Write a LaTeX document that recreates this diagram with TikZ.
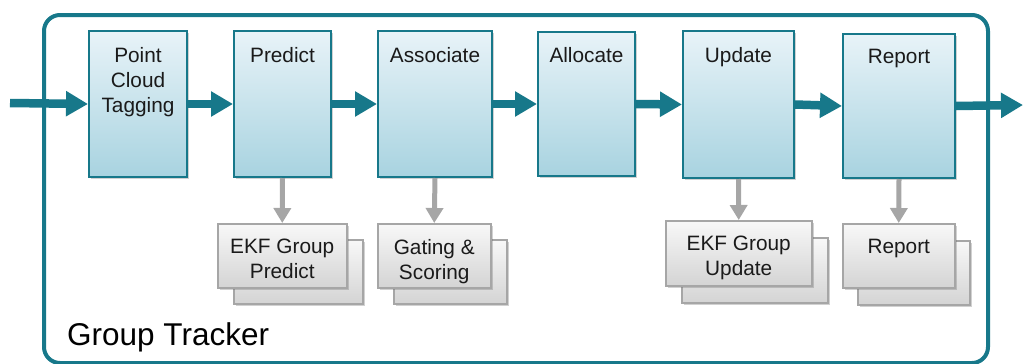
\documentclass[tikz,border=0pt]{standalone}
\usepackage{fontspec}
\setmainfont{Liberation Sans}
\usetikzlibrary{arrows.meta,shadows,calc}
\definecolor{tealc}{HTML}{17788A}
\definecolor{boxtop}{HTML}{E8F3F8}
\definecolor{boxbot}{HTML}{A8D3E0}
\definecolor{graytop}{HTML}{F8F8F8}
\definecolor{graybot}{HTML}{D4D4D4}
\definecolor{grayline}{HTML}{A6A6A6}
\definecolor{txt}{HTML}{1A1A1A}
\tikzset{
  mainbox/.style={draw=tealc, line width=2pt, top color=boxtop, bottom color=boxbot,
    anchor=north west, inner sep=0pt,
    drop shadow={shadow xshift=2pt, shadow yshift=-2pt, opacity=0.3, fill=black!60}},
  subbox/.style={draw=grayline, line width=1.5pt, top color=graytop, bottom color=graybot,
    anchor=north west, inner sep=0pt, minimum height=64pt,
    drop shadow={shadow xshift=2.5pt, shadow yshift=-2.5pt, opacity=0.3, fill=black!60}},
  lbl/.style={anchor=north, align=center, inner sep=0pt, text=txt,
    font=\fontsize{20.8}{25}\selectfont},
  flow/.style={draw=tealc, line width=8.5pt, -{Triangle[length=22pt, width=24pt]}},
  down/.style={draw=grayline, line width=5pt, -{Triangle[length=15pt, width=17pt]}},
  frame/.style={draw=tealc, line width=4pt, rounded corners=16pt, anchor=north west,
    inner sep=0pt},
}
\begin{document}
\begin{tikzpicture}[x=1pt, y=-1pt]
\useasboundingbox (0,0) rectangle (1023,364);
% outer frame
\node[frame, minimum width=944pt, minimum height=348pt] (frame) at (42,13) {};
% main boxes
\node[mainbox, minimum width=98pt, minimum height=146pt] (pct) at (88,30) {};
\node[mainbox, minimum width=97pt, minimum height=146pt] (pred) at (233,30) {};
\node[mainbox, minimum width=114pt, minimum height=146pt] (assoc) at (377,30) {};
\node[mainbox, minimum width=97pt, minimum height=144pt] (alloc) at (537,31) {};
\node[mainbox, minimum width=111pt, minimum height=147pt] (upd) at (682,30) {};
\node[mainbox, minimum width=112pt, minimum height=144pt] (rep) at (842,33) {};
\node[lbl] (tpct) at ($(pct.north)+(0,17)$) {Point\\Cloud\\Tagging};
\node[lbl] (tpred) at ($(pred.north)+(0,17)$) {Predict};
\node[lbl] (tassoc) at ($(assoc.north)+(0,17)$) {Associate};
\node[lbl] (talloc) at ($(alloc.north)+(0,16)$) {Allocate};
\node[lbl] (tupd) at ($(upd.north)+(0,17)$) {Update};
\node[lbl] (trep) at ($(rep.north)+(0,16)$) {Report};
% sub boxes (back copies first)
\node[subbox, minimum width=129pt] (s1b) at (233,239) {};
\node[subbox, minimum width=129pt] (s1) at (217,223) {};
\node[subbox, minimum width=113pt] (s2b) at (393,239) {};
\node[subbox, minimum width=113pt] (s2) at (377,223) {};
\node[subbox, minimum width=146pt, minimum height=65pt] (s3b) at (681,237) {};
\node[subbox, minimum width=146pt, minimum height=65pt] (s3) at (665,220) {};
\node[subbox, minimum width=112pt] (s4b) at (857,240) {};
\node[subbox, minimum width=112pt] (s4) at (842,223) {};
\node[lbl] (ts1) at ($(s1.north)+(0,16)$) {EKF Group\\Predict};
\node[lbl] (ts2) at ($(s2.north)+(0,16)$) {Gating \&\\Scoring};
\node[lbl] (ts3) at ($(s3.north)+(0,16)$) {EKF Group\\Update};
\node[lbl] (ts4) at ($(s4.north)+(0,16)$) {Report};
% flow arrows
\coordinate (in) at (10,103);
\coordinate (out) at (1023,105);
\draw[flow] (in) -- (pct.west);
\draw[flow] (pct.east) -- (pred.west);
\draw[flow] (pred.east) -- (assoc.west);
\draw[flow] (assoc.east) -- (alloc.west);
\draw[flow] (alloc.east) -- (upd.west);
\draw[flow] (upd.east) -- (rep.west);
\draw[flow] (rep.east) -- (out);
% down arrows
\draw[down] (pred.south) -- (s1.north);
\draw[down] (assoc.south) -- (s2.north);
\draw[down] (upd.south) -- (s3.north);
\draw[down] (rep.south) -- (s4.north);
% title
\node[anchor=base west, inner sep=0pt, text=black, font=\fontsize{31.5}{36}\selectfont] (title) at (67,345) {Group Tracker};
\end{tikzpicture}
\end{document}
